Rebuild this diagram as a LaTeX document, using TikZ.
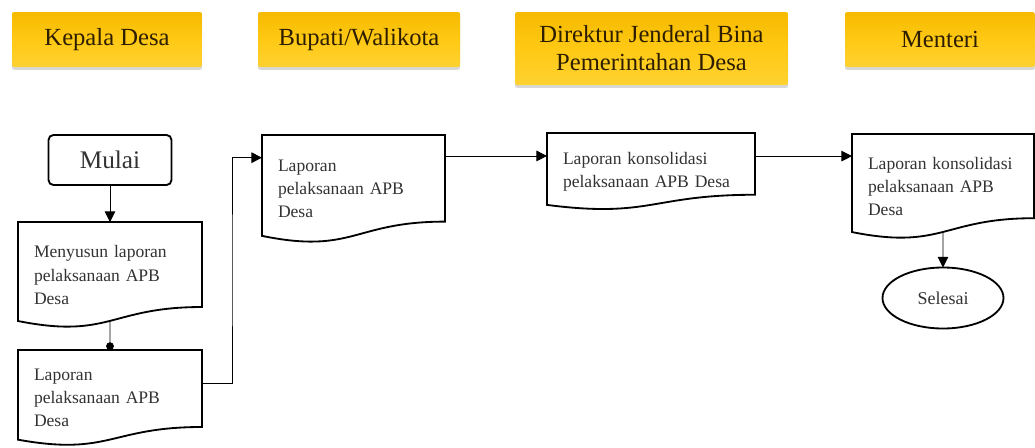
\documentclass[tikz,border=0pt]{standalone}
\usepackage{fontspec}
\setmainfont{Liberation Serif}
\usepackage{tikz}
\usetikzlibrary{calc,arrows.meta,shapes.geometric,shadows}
\def\pw{0.025cm}
\definecolor{hdrtop}{RGB}{246,186,0}
\definecolor{hdrmid}{RGB}{255,201,20}
\definecolor{hdrbot}{RGB}{255,210,50}
\definecolor{hdrtext}{RGB}{45,30,0}
\definecolor{doctext}{RGB}{50,50,50}
\newcommand{\docoutline}[1]{\draw[docline] (#1.north west) -- (#1.north east) -- ($(#1.north east)!0.802!(#1.south east)$) .. controls ($(#1.north)!0.802!(#1.south)$) and ($(#1.north)!1.107!(#1.south)$) .. ($(#1.north west)!0.934!(#1.south west)$) -- cycle;}
\tikzset{
  header/.style={rectangle, rounded corners=1.5pt, outer sep=0pt, top color=hdrtop, bottom color=hdrbot, middle color=hdrmid, text=hdrtext, align=center, font=\fontsize{17.5}{20}\selectfont, drop shadow={shadow xshift=0pt, shadow yshift=-2pt, opacity=0.22, fill=black!70}},
  docnode/.style 2 args={rectangle, outer sep=0pt, inner ysep=0pt, inner xsep=16*\pw, minimum width=#1*\pw, text width=#1*\pw-32*\pw, minimum height=#2*\pw, align=left, text=doctext, font=\fontsize{12.5}{16.5}\selectfont},
  docline/.style={line width=1.3pt},
  startbox/.style={rectangle, draw, line width=1.3pt, rounded corners=3.5pt, outer sep=0pt, minimum width=123*\pw, minimum height=50*\pw, text=doctext, font=\fontsize{18}{20}\selectfont},
  endbox/.style={ellipse, draw, line width=1.3pt, outer sep=0pt, minimum width=121*\pw, minimum height=61*\pw, text=doctext, font=\fontsize{12.8}{15}\selectfont},
  flow/.style={draw, line width=0.6pt, -{Triangle[length=7.5pt,width=7.5pt]}},
  dotflow/.style={draw, line width=0.6pt, -{Circle[length=5.5pt]}}
}
\begin{document}
\begin{tikzpicture}[x=0.025cm, y=-0.025cm]
	%%%%% START %%%%%
	\useasboundingbox (0,0) rectangle (1035,448);
	
	% column headers
	\node[header, minimum width=190*\pw, minimum height=55*\pw] (kades) at (107,39.5) {Kepala Desa};
	\node[header, minimum width=202*\pw, minimum height=55*\pw] (bupati) at (359,39.5) {Bupati/Walikota};
	\node[header, minimum width=273*\pw, minimum height=73*\pw] (dirjen) at (651.5,48.5) {Direktur Jenderal Bina\\Pemerintahan Desa};
	\node[header, minimum width=190*\pw, minimum height=55*\pw] (menteri) at (940,39.5) {Menteri};
	
	% Kepala Desa
	\node[startbox] (mulai) at (110,160) {Mulai};
	\node[docnode={184}{106}] (susun) at (110,275) {Menyusun laporan\\pelaksanaan APB\\Desa};
	\node[docnode={184}{96}] (lapdes) at (110,398) {Laporan\\pelaksanaan APB\\Desa};
	
	% Bupati/Walikota
	\node[docnode={183}{108}] (lapbup) at (353.5,189) {Laporan\\pelaksanaan APB\\Desa};
	
	% Dirjen
	\node[docnode={208}{77}] (lapdir) at (651,171.5) {Laporan konsolidasi\\pelaksanaan APB Desa};
	
	% Menteri
	\node[docnode={182}{105}] (lapmen) at (943,186.5) {Laporan konsolidasi\\pelaksanaan APB\\Desa};
	\node[endbox] (selesai) at (943,298) {Selesai};
	
	\docoutline{susun}
	\docoutline{lapdes}
	\docoutline{lapbup}
	\docoutline{lapdir}
	\docoutline{lapmen}
	
	% connectors
	\coordinate (susunfoot) at ($(susun.north)!0.933!(susun.south)$);
	\coordinate (lapdesout) at ($(lapdes.north east)!0.344!(lapdes.south east)$);
	\coordinate (lapbupin) at ($(lapbup.north west)!0.21!(lapbup.south west)$);
	\coordinate (lapbupout) at ($(lapbup.north east)!0.194!(lapbup.south east)$);
	\coordinate (lapdirout) at ($(lapdir.north east)!0.30!(lapdir.south east)$);
	\coordinate (lapmenfoot) at ($(lapmen.north)!0.933!(lapmen.south)$);
	
	\draw[flow] (mulai) -- (susun);
	\draw[dotflow] (susunfoot) -- (lapdes.north);
	\draw[flow] (lapdesout) -| ($(lapdesout)!.5!(lapbupin)$) |- (lapbupin);
	\draw[flow] (lapbupout) -- (lapbupout -| lapdir.west);
	\draw[flow] (lapdirout) -- (lapdirout -| lapmen.west);
	\draw[flow] (lapmenfoot) -- (selesai.north);
	%%%%% END %%%%%
\end{tikzpicture}
\end{document}
